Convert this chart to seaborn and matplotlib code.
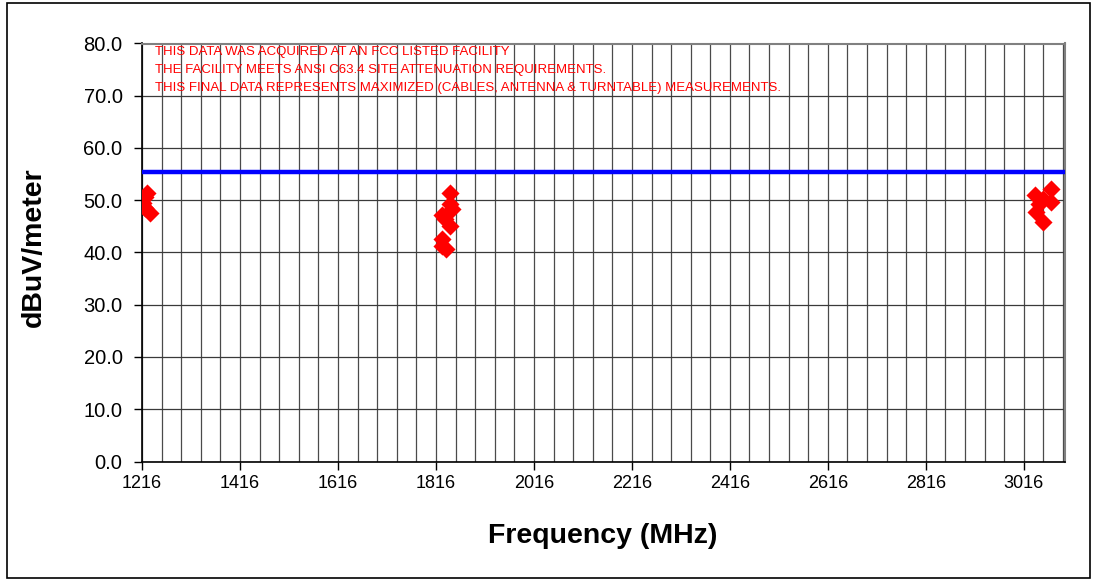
import matplotlib
matplotlib.use('Agg')
import matplotlib.pyplot as plt
import pandas as pd
import seaborn as sns
from matplotlib.patches import Rectangle
from matplotlib.ticker import MultipleLocator, FixedLocator

# Measured emissions (frequency in MHz, level in dBuV/m)
freq = [1226, 1222, 1219, 1222, 1232,
        1845, 1845, 1848, 1828, 1835, 1845, 1828, 1828, 1836,
        3072, 3038, 3055, 3072, 3041, 3055, 3047]
level = [51.4, 50.6, 49.4, 48.5, 47.5,
         51.3, 49.3, 48.3, 47.2, 46.5, 45.1, 42.5, 41.3, 40.7,
         52.2, 51.0, 50.2, 49.6, 47.7, 45.8, 49.2]

limit = 55.5

x_ticks = [1216, 1416, 1616, 1816, 2016, 2216, 2416, 2616, 2816, 3016]
y_ticks = [0, 10, 20, 30, 40, 50, 60, 70, 80]

notes = ["THIS DATA WAS ACQUIRED AT AN FCC LISTED FACILITY",
         "THE FACILITY MEETS ANSI C63.4 SITE ATTENUATION REQUIREMENTS.",
         "THIS FINAL DATA REPRESENTS MAXIMIZED (CABLES, ANTENNA & TURNTABLE) MEASUREMENTS."]

sns.set_style('white')
plt.rcParams['font.family'] = ['Liberation Sans', 'DejaVu Sans']

df = pd.DataFrame({'freq': freq, 'level': level})

W, H = 1097, 581
fig = plt.figure(figsize=(W / 100, H / 100), dpi=100)
ax = fig.add_axes([142 / W, 1 - 461.5 / H, (1065 - 142) / W, (461.5 - 43.5) / H])

# grid: vertical every 40 MHz, horizontal every 10
ax.set_xlim(1216, 3100)
ax.set_ylim(0, 80)
ax.xaxis.set_minor_locator(MultipleLocator(40, offset=16))
ax.xaxis.set_major_locator(FixedLocator(x_ticks))
ax.set_yticks(y_ticks)
ax.set_yticklabels([f'{v:.1f}' for v in y_ticks])
ax.grid(which='both', axis='x', color='#4a4a4a', linewidth=0.9)
ax.grid(which='major', axis='y', color='#3a3a3a', linewidth=0.9)
ax.set_axisbelow(True)

ax.axhline(limit, color='#0000FF', linewidth=3.2, zorder=3)

sns.scatterplot(data=df, x='freq', y='level', marker='D', color='#FF0000',
                edgecolor='#FF0000', s=85, linewidth=0, ax=ax, zorder=4)

ax.tick_params(axis='both', which='major', direction='out', length=6, width=1,
               color='black', labelcolor='black', bottom=True, left=True)
ax.tick_params(axis='x', labelsize=13)
ax.tick_params(axis='y', labelsize=14.5, pad=8)
ax.tick_params(axis='x', which='minor', bottom=False)
for side in ['left', 'bottom']:
    ax.spines[side].set_color('black')
    ax.spines[side].set_linewidth(1.2)
for side in ['top', 'right']:
    ax.spines[side].set_color('#808080')
    ax.spines[side].set_linewidth(1.5)

ax.set_xlabel('Frequency (MHz)', fontsize=20.5, fontweight='bold', color='black')
ax.set_ylabel('dBuV/meter', fontsize=20.5, fontweight='bold', color='black')
ax.xaxis.set_label_coords((603 - 142) / 923, (461.5 - 523) / 418)
ax.yaxis.set_label_coords((47 - 142) / 923, (461.5 - 247) / 418)

# notes in red near the top left of the plot area (pixel positions)
for i, line in enumerate(notes):
    fig.text(155 / W, 1 - (52 + 18 * i) / H, line, color='#FF0000',
             fontsize=9.5, va='center', ha='left')

# outer chart border
fig.patches.append(Rectangle((7 / W, 3 / H), 1083 / W, 575 / H,
                             transform=fig.transFigure, fill=False,
                             edgecolor='black', linewidth=1.2))

fig.savefig('out.png', dpi=100)
